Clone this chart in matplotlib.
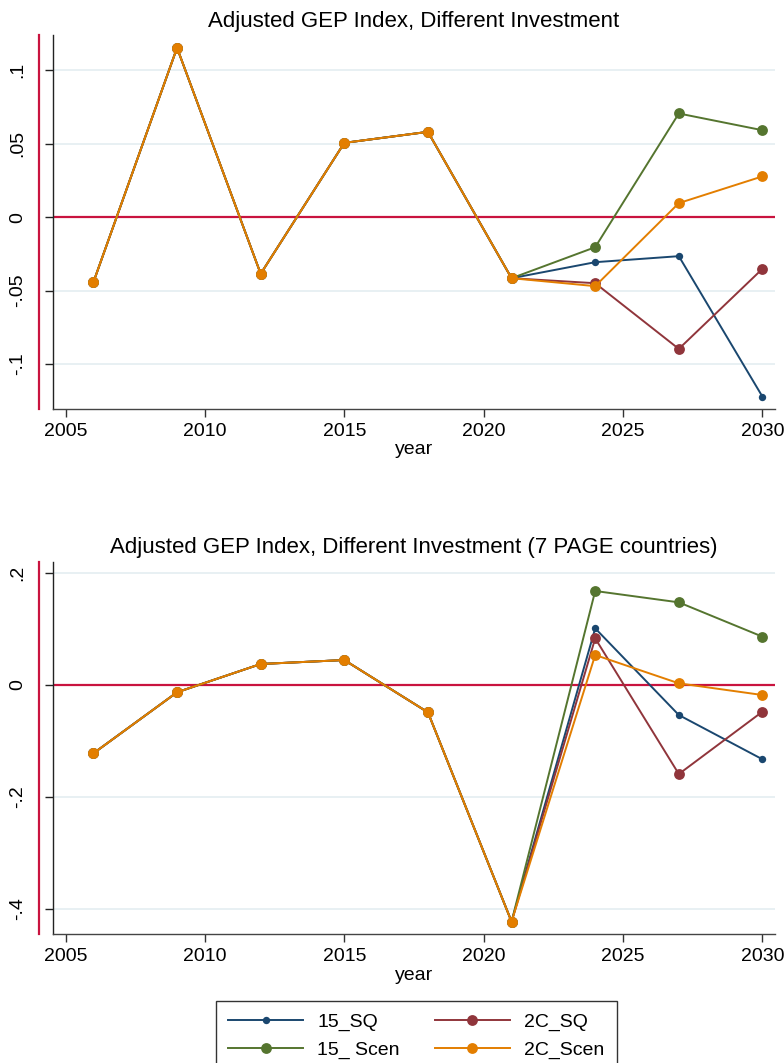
import matplotlib
matplotlib.use("Agg")
import matplotlib.pyplot as plt
from matplotlib.lines import Line2D

plt.rcParams['font.family'] = ['Liberation Sans', 'DejaVu Sans']

years = [2006, 2009, 2012, 2015, 2018, 2021, 2024, 2027, 2030]

# Panel 1: all countries
p1_15_sq   = [-0.0443, 0.1152, -0.0386, 0.0505, 0.0580, -0.0416, -0.0307, -0.0266, -0.1222]
p1_2c_sq   = [-0.0443, 0.1152, -0.0386, 0.0505, 0.0580, -0.0416, -0.0450, -0.0897, -0.0352]
p1_15_scen = [-0.0443, 0.1152, -0.0386, 0.0505, 0.0580, -0.0416, -0.0205, 0.0705, 0.0591]
p1_2c_scen = [-0.0443, 0.1152, -0.0386, 0.0505, 0.0580, -0.0416, -0.0470, 0.0095, 0.0277]

# Panel 2: 7 PAGE countries
p2_15_sq   = [-0.1220, -0.0130, 0.0375, 0.0446, -0.0488, -0.4226, 0.1012, -0.0536, -0.1327]
p2_2c_sq   = [-0.1220, -0.0130, 0.0375, 0.0446, -0.0488, -0.4226, 0.0833, -0.1590, -0.0476]
p2_15_scen = [-0.1220, -0.0130, 0.0375, 0.0446, -0.0488, -0.4226, 0.1679, 0.1476, 0.0863]
p2_2c_scen = [-0.1220, -0.0130, 0.0375, 0.0446, -0.0488, -0.4226, 0.0536, 0.0030, -0.0179]

series_labels = ["15_SQ", "2C_SQ", "15_ Scen", "2C_Scen"]
titles = ["Adjusted GEP Index, Different Investment",
          "Adjusted GEP Index, Different Investment (7 PAGE countries)"]
xticks = [2005, 2010, 2015, 2020, 2025, 2030]
p1_yticks = [-0.1, -0.05, 0, 0.05, 0.1]
p1_yticklabels = ["-.1", "-.05", "0", ".05", ".1"]
p2_yticks = [-0.4, -0.2, 0, 0.2]
p2_yticklabels = ["-.4", "-.2", "0", ".2"]

colors = ["#1a476f", "#90353b", "#55752f", "#e37e00"]
msizes = [5.3, 7.8, 7.8, 7.8]
red = "#c9133f"
W, H = 784, 1063

fig = plt.figure(figsize=(W / 100, H / 100), dpi=100)

def fx(px):
    return px / W

def fy(py):
    return 1 - py / H

panels = [
    dict(top=35, bottom=409, data=[p1_15_sq, p1_2c_sq, p1_15_scen, p1_2c_scen],
         ylim=(-0.1306, 0.1239), yt=p1_yticks, ytl=p1_yticklabels, title=titles[0]),
    dict(top=561.7, bottom=934.3, data=[p2_15_sq, p2_2c_sq, p2_15_scen, p2_2c_scen],
         ylim=(-0.4452, 0.2202), yt=p2_yticks, ytl=p2_yticklabels, title=titles[1]),
]

left_px, right_px = 53, 775
handles = []
for p in panels:
    ax = fig.add_axes([fx(left_px), fy(p['bottom']), fx(right_px - left_px),
                       (p['bottom'] - p['top']) / H])
    ax.set_xlim(2004.55, 2030.45)
    ax.set_ylim(*p['ylim'])
    for yv in p['yt']:
        ax.axhline(yv, color="#e8f0f3", lw=1.4, zorder=0)
    ax.axhline(0, color=red, lw=1.6, zorder=1)
    hs = []
    for vals, c, ms, lab in zip(p['data'], colors, msizes, series_labels):
        h, = ax.plot(years, vals, color=c, lw=1.4, marker='o', ms=ms,
                     markeredgewidth=0, label=lab, zorder=3)
        hs.append(h)
    handles = hs
    ax.set_xticks(xticks)
    ax.set_yticks(p['yt'])
    ax.set_yticklabels(p['ytl'], rotation=90, va='center')
    ax.tick_params(axis='x', length=5.5, width=1, pad=4.5, labelsize=14, color="#333333")
    ax.tick_params(axis='y', length=6, width=1, pad=13, labelsize=14, color="#222222")
    for s in ['top', 'right']:
        ax.spines[s].set_visible(False)
    ax.spines['left'].set_color("#222222")
    ax.spines['bottom'].set_color("#444444")
    ax.spines['left'].set_linewidth(1)
    ax.spines['bottom'].set_linewidth(1)
    ax.set_xlabel("year", fontsize=14, labelpad=1)
    ax.set_title(p['title'], fontsize=16, pad=6)
    ax.add_line(Line2D([-14 / (right_px - left_px)] * 2, [0, 1], transform=ax.transAxes,
                       color=red, lw=1.6, clip_on=False))

order = [0, 2, 1, 3]
leg = fig.legend([handles[i] for i in order], [series_labels[i] for i in order],
                 loc='upper left', bbox_to_anchor=(fx(215.7), fy(1000.7)),
                 bbox_transform=fig.transFigure, ncol=2, fontsize=14,
                 frameon=True, fancybox=False, framealpha=1, edgecolor="#333333",
                 handlelength=3.86, handletextpad=0.72, columnspacing=1.8,
                 labelspacing=0.5, borderpad=0.65, borderaxespad=0)
leg.get_frame().set_linewidth(1)

fig.savefig("out.png", dpi=100)
